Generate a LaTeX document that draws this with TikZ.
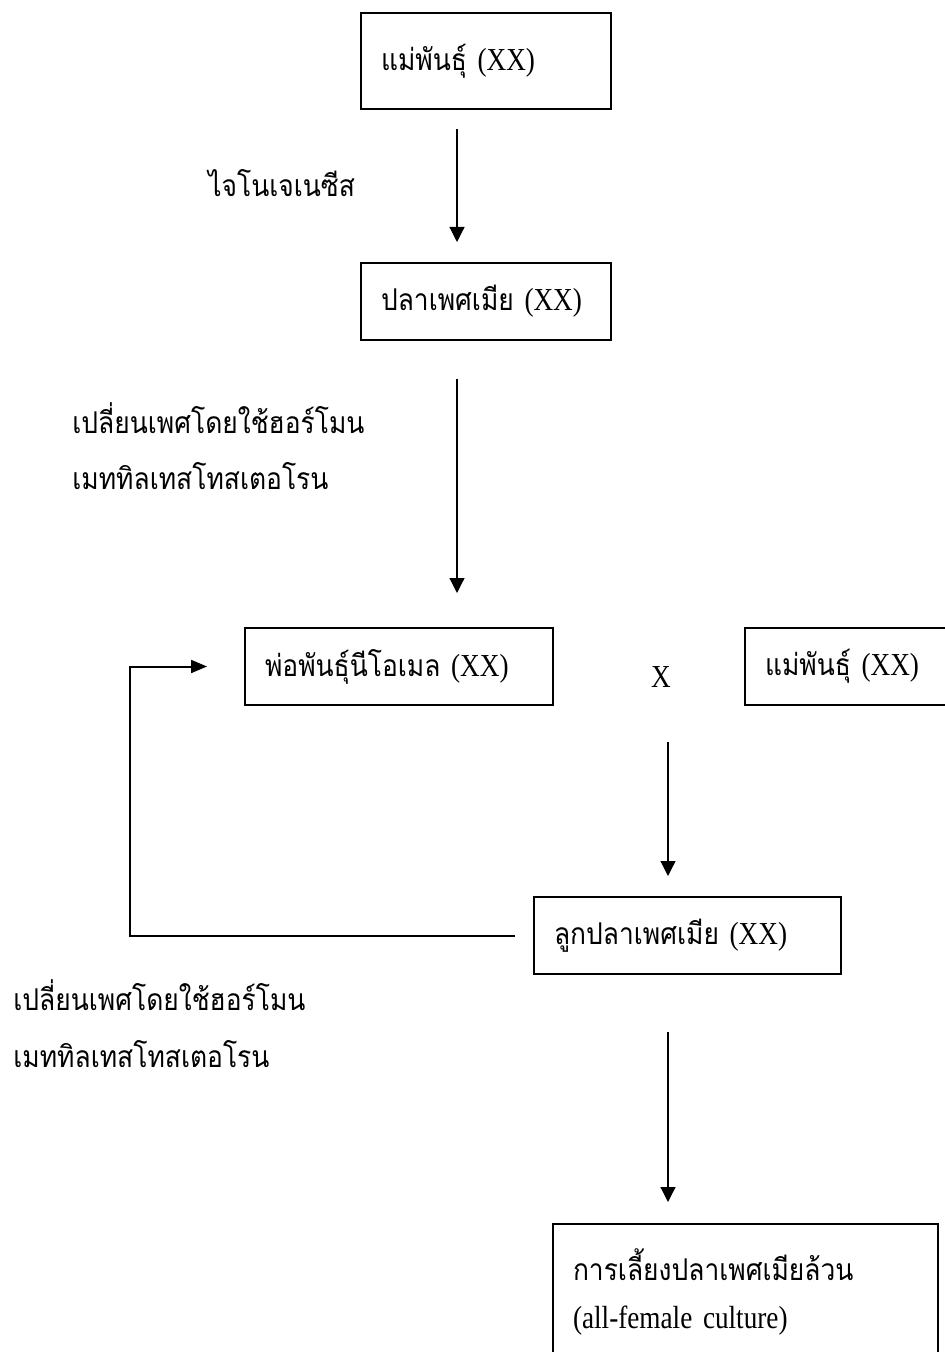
\documentclass[tikz,border=0pt]{standalone}
\usepackage{fontspec}
\setmainfont[FakeStretch=0.85]{Liberation Serif}
\newfontfamily\thai[Script=Thai,FakeStretch=0.88]{Loma}
\usetikzlibrary{arrows.meta,calc}

\tikzset{
  stage/.style 2 args={draw=black, line width=1pt, anchor=north west,
    inner xsep=10pt, inner ysep=0pt, text width=#1, minimum height=#2, align=left},
  flow/.style={draw=black, line width=0.6pt, -{Triangle[length=7.5pt,width=7.5pt]}},
  loopback/.style={draw=black, line width=1pt, -{Triangle[length=8pt,width=6.5pt]}},
  note/.style={anchor=west, align=left, inner sep=0pt, font=\fontsize{15pt}{17pt}\selectfont\thai},
}
\newcommand{\thw}[1]{{\fontsize{15pt}{17pt}\selectfont\thai #1}}

\begin{document}
\begin{tikzpicture}[x=0.5pt, y=-0.5pt, font=\fontsize{16pt}{18pt}\selectfont]
\useasboundingbox (0,0) rectangle (945,1352);
\clip (0,0) rectangle (945,1352);
% boxes
\node[stage={105pt}{48pt}] (mother) at (360,12) {\thw{แม่พันธุ์} (XX)};
\node[stage={105pt}{38.5pt}] (female) at (360,262) {\thw{ปลาเพศเมีย} (XX)};
\node[stage={134pt}{38.5pt}] (neomale) at (244,627) {\thw{พ่อพันธุ์นีโอเมล} (XX)};
\node[stage={130pt}{38.5pt}] (mother2) at (744,627) {\thw{แม่พันธุ์} (XX)};
\node (cross) at (661,677) {X};
\node[stage={133.5pt}{38.5pt}] (fry) at (533,896) {\thw{ลูกปลาเพศเมีย} (XX)};
\node[stage={172.5pt}{68pt}] (culture) at (552,1223) {\thw{การเลี้ยงปลาเพศเมียล้วน}\\[6pt](all-female culture)};
% labels
\node[note] (gyno) at (208,183) {ไจโนเจเนซีส};
\node[note] (hormone1) at (72,446) {เปลี่ยนเพศโดยใช้ฮอร์โมน\\[11pt]เมททิลเทสโทสเตอโรน};
\node[note] (hormone2) at (13,1024) {เปลี่ยนเพศโดยใช้ฮอร์โมน\\[11.5pt]เมททิลเทสโทสเตอโรน};
% arrows
\draw [flow] ($(mother.south)+(-29,19)$) -- ($(female.north)+(-29,-20)$);
\draw [flow] ($(female.south)+(-29,38)$) -- ($(female.south)+(-29,252)$);
\draw [flow] ($(fry.north)+(-19.5,-154)$) -- ($(fry.north)+(-19.5,-20)$);
\draw [flow] ($(fry.south)+(-19.5,57)$) -- ($(culture.north)+(-77.5,-21)$);
\draw [loopback] ($(fry.west)+(-18,0)$) -| ($(neomale.west)+(-114,0)$) -- ($(neomale.west)+(-37,0)$);
\end{tikzpicture}
\end{document}
